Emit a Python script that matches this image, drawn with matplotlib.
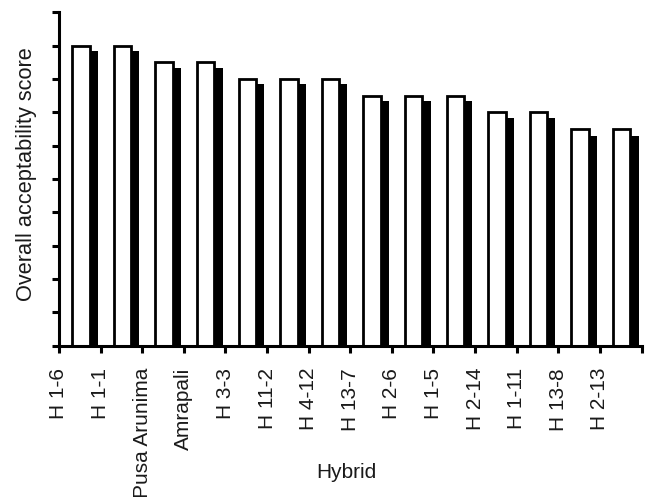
import matplotlib
matplotlib.use("Agg")
import matplotlib.pyplot as plt
import numpy as np

plt.rcParams['font.family'] = ['Liberation Sans', 'DejaVu Sans']

hybrids = ["H 1-6", "H 1-1", "Pusa Arunima", "Amrapali", "H 3-3", "H 11-2", "H 4-12",
           "H 13-7", "H 2-6", "H 1-5", "H 2-14", "H 1-11", "H 13-8", "H 2-13"]
score_white = [9.0, 9.0, 8.5, 8.5, 8.0, 8.0, 8.0, 7.5, 7.5, 7.5, 7.0, 7.0, 6.5, 6.5]
score_black = [8.84, 8.84, 8.33, 8.33, 7.84, 7.84, 7.84, 7.33, 7.33, 7.33, 6.83, 6.83, 6.3, 6.3]

fig = plt.figure(figsize=(6.45, 4.97), dpi=100)
ax = fig.add_axes([59/645, 1-345.7/497, (641.5-59)/645, (345.7-12.3)/497])

x = np.arange(len(hybrids))
w = 0.42
ax.bar(x + 0.72, score_black, width=w, color='black', edgecolor='black', linewidth=0, zorder=2)
ax.bar(x + 0.525, score_white, width=w, color='white', edgecolor='black', linewidth=2.0, zorder=3)

ax.set_xlim(0, 14)
ax.set_ylim(0, 10)
ax.set_xticks(np.arange(len(hybrids) + 1))
ax.set_xticklabels(hybrids + [""], rotation=90, fontsize=15, color='#1a1a1a')
ax.set_yticks(np.arange(0, 11, 1))
ax.set_yticklabels([])

for s in ['top', 'right']:
    ax.spines[s].set_visible(False)
for s in ['left', 'bottom']:
    ax.spines[s].set_linewidth(2.2)
    ax.spines[s].set_zorder(4)
ax.tick_params(axis='both', direction='out', length=5, width=2.2)
ax.tick_params(axis='x', pad=11.0)

ax.set_ylabel("Overall acceptability score", fontsize=15.7, color='#1a1a1a')
ax.yaxis.set_label_coords(-0.056, 0.515)
ax.set_xlabel("Hybrid", fontsize=15, color='#1a1a1a')
ax.xaxis.set_label_coords(0.493, -0.379)
ax.xaxis.label.set_va('center')
ax.yaxis.label.set_va('center')

fig.savefig("out.png", dpi=100)
